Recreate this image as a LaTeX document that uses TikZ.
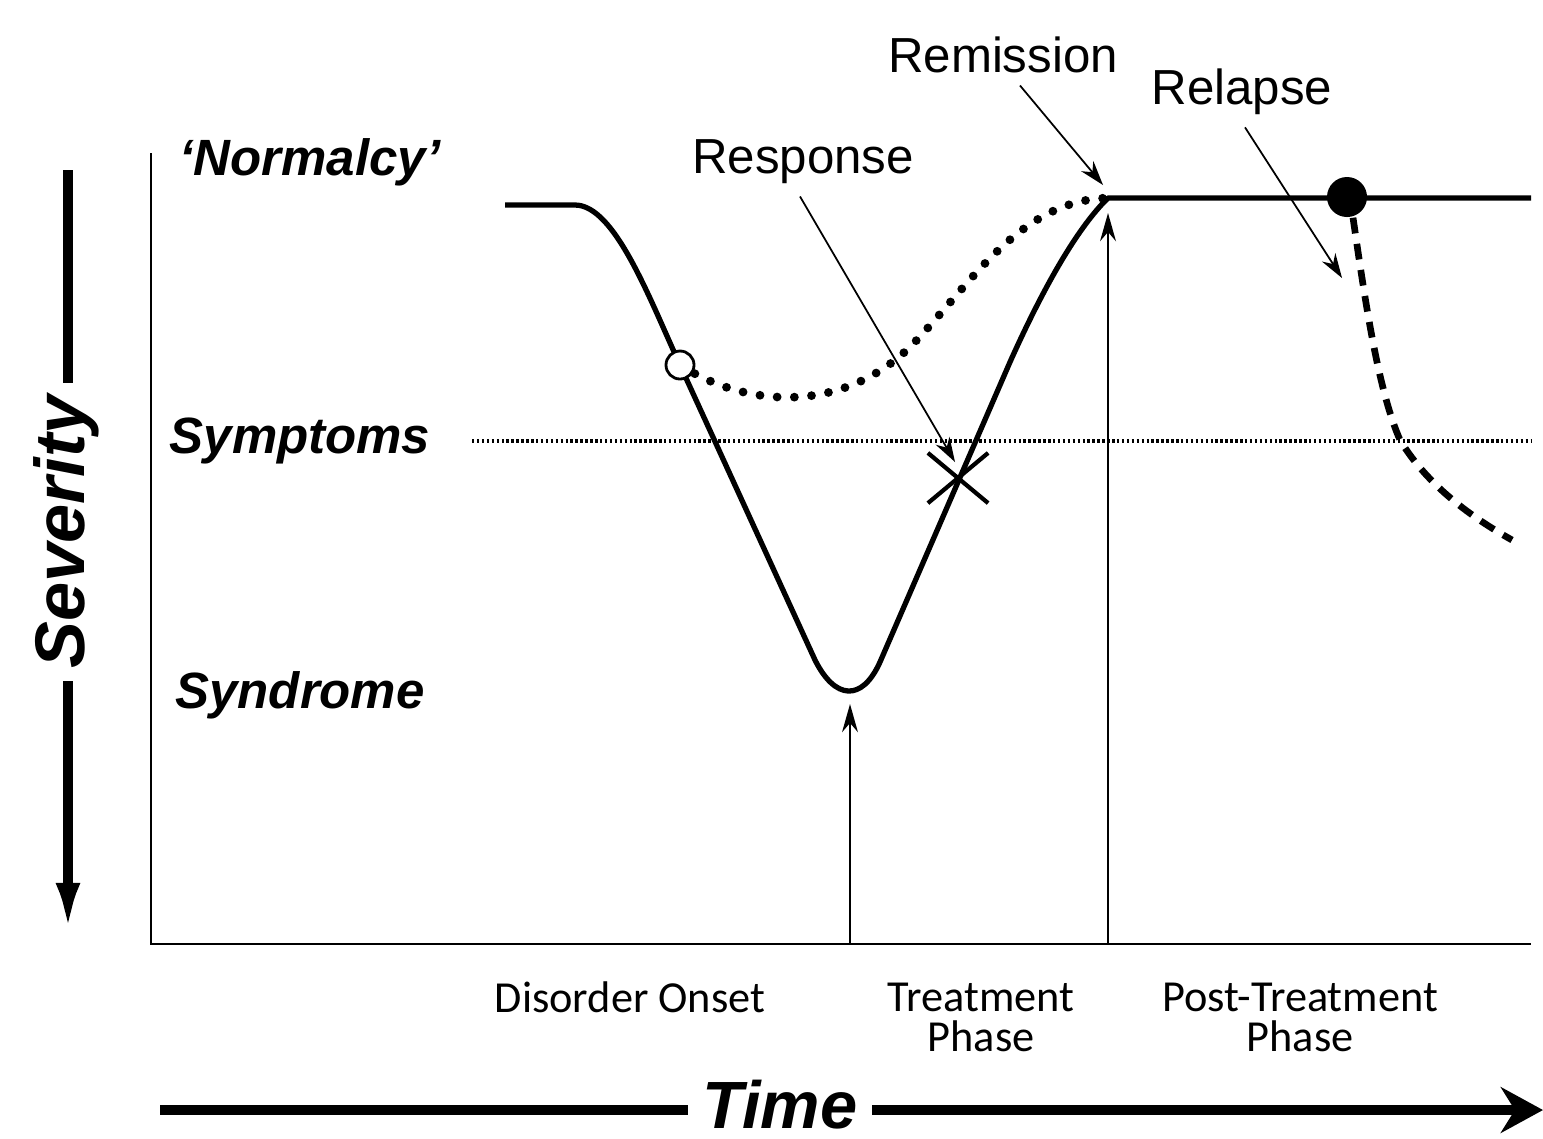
\documentclass[tikz,border=0pt]{standalone}
\usepackage{fontspec}
\setmainfont{Liberation Sans}
\newfontfamily\phasefont{Carlito}
\usetikzlibrary{arrows.meta,positioning,calc,shapes.misc}

\begin{document}
\begin{tikzpicture}[x=0.01cm, y=-0.01cm, >=Stealth]

	\useasboundingbox (0,0) rectangle (1543,1138);

	\tikzset{
		level/.style={font=\fontsize{14.5}{16}\selectfont\bfseries\itshape},
		outcome/.style={font=\fontsize{14}{16}\selectfont},
		phase/.style={font=\phasefont\fontsize{12.6}{11.4}\selectfont, align=center, inner sep=0pt},
		course/.style={line width=1.5pt, line join=round},
		course dots/.style={line width=2.5pt, line cap=round, dash pattern=on 0pt off 4.9pt},
		relapse dash/.style={line width=1.9pt, dash pattern=on 4.5pt off 3pt},
		threshold/.style={line width=1pt, dash pattern=on 0.7pt off 0.7pt},
		pointer/.style={-{Stealth[length=7pt,width=4.5pt]}, line width=0.5pt},
		marker/.style={-{Stealth[length=8pt,width=4.5pt]}, line width=0.7pt},
		heavy/.style={line width=2.6pt}
	}

	% Axes
	\coordinate (y top) at (151,153);
	\coordinate (origin) at (151,944);
	\coordinate (x end) at (1531,944);
	\draw[line width=0.8pt] (y top) -- (origin) -- (x end);

	% Severity levels
	\node[level] (normalcy) at (310,162) {‘Normalcy’};
	\node[level] (symptoms) at (300,441) {Symptoms};
	\node[level] (syndrome) at (300,695) {Syndrome};

	\coordinate (sym start) at (472,441);
	\coordinate (sym end) at (1531,441);
	\draw[threshold] (sym start) -- (sym end);

	% Course of the disorder
	\coordinate (well) at (505,205);
	\coordinate (onset bend) at (575,205);
	\coordinate (early) at (680,365);
	\coordinate (trough) at (850,692);
	\coordinate (remit) at (1108,198);
	\coordinate (line end) at (1531,198);
	\coordinate (relapse end) at (1512,540);

	\draw[course] (well) -- (onset bend)
		.. controls (615,205) and (650,300) .. (early)
		-- (815,660) .. controls (835,700) and (862,702) .. (880,662)
		-- (1010,362) .. controls (1040,295) and (1075,230) .. (remit)
		-- (line end);

	\draw[course dots] (early) .. controls (750,410) and (845,412) .. (912,345)
		.. controls (970,285) and (1020,200) .. (remit);

	\node[circle, fill=black, minimum size=0.4cm, inner sep=0pt] (relapse dot) at (1347,197) {};
	\draw[relapse dash] ([xshift=0.06cm]relapse dot.south)
		.. controls (1365,300) and (1378,390) .. (1400,440)
		.. controls (1430,490) and (1480,522) .. (relapse end);

	\node[circle, draw, fill=white, line width=0.8pt, minimum size=0.28cm, inner sep=0pt] (early dot) at (early) {};
	\node[cross out, draw, line width=1.2pt, minimum width=0.56cm, minimum height=0.46cm, inner sep=0pt] (response x) at (958,478) {};

	% Outcome labels
	\node[outcome] (response) at (803,162) {Response};
	\node[outcome] (remission) at (1003,55) {Remission};
	\node[outcome] (relapse) at (1242,92) {Relapse};

	\coordinate (response tip) at (955,462);
	\coordinate (remission tip) at (1103,185);
	\coordinate (relapse tip) at (1342,278);

	\draw[pointer] ([xshift=-0.03cm]response.south) -- (response tip);
	\draw[pointer] ([xshift=0.17cm]remission.south) -- (remission tip);
	\draw[pointer] ([xshift=0.03cm]relapse.south) -- (relapse tip);

	% Phase markers
	\coordinate (onset base) at (850,944);
	\coordinate (onset tip) at (850,704);
	\coordinate (end base) at (1108,944);
	\coordinate (end tip) at (1108,213);
	\draw[marker] (onset base) -- (onset tip);
	\draw[marker] (end base) -- (end tip);

	\node[phase] (onset) at (630,997) {Disorder Onset};
	\node[phase] (treatment) at (981,1017) {Treatment\\Phase};
	\node[phase] (post) at (1300,1017) {Post-Treatment\\Phase};

	% Severity axis
	\node[font=\fontsize{20}{20}\selectfont\bfseries\itshape, rotate=90] (severity) at (66,532) {Severity};
	\coordinate (sev top) at (68,170);
	\coordinate (sev end) at (68,932);
	\draw[heavy] (sev top) -- (sev top |- severity.east);
	\draw[heavy, -{Latex[length=14pt,width=7pt]}] (sev end |- severity.west) -- (sev end);

	% Time axis
	\node[font=\fontsize{19}{20}\selectfont\bfseries\itshape, anchor=base, inner ysep=0pt, inner xsep=4pt] (time) at (780,1128) {Time};
	\coordinate (time start) at (160,1110);
	\coordinate (time end) at (1543,1110);
	\draw[heavy] (time start) -- (time start -| time.west);
	\draw[heavy, -{Stealth[length=12pt,width=13pt,inset=4pt]}] (time end -| time.east) -- (time end);

\end{tikzpicture}
\end{document}
